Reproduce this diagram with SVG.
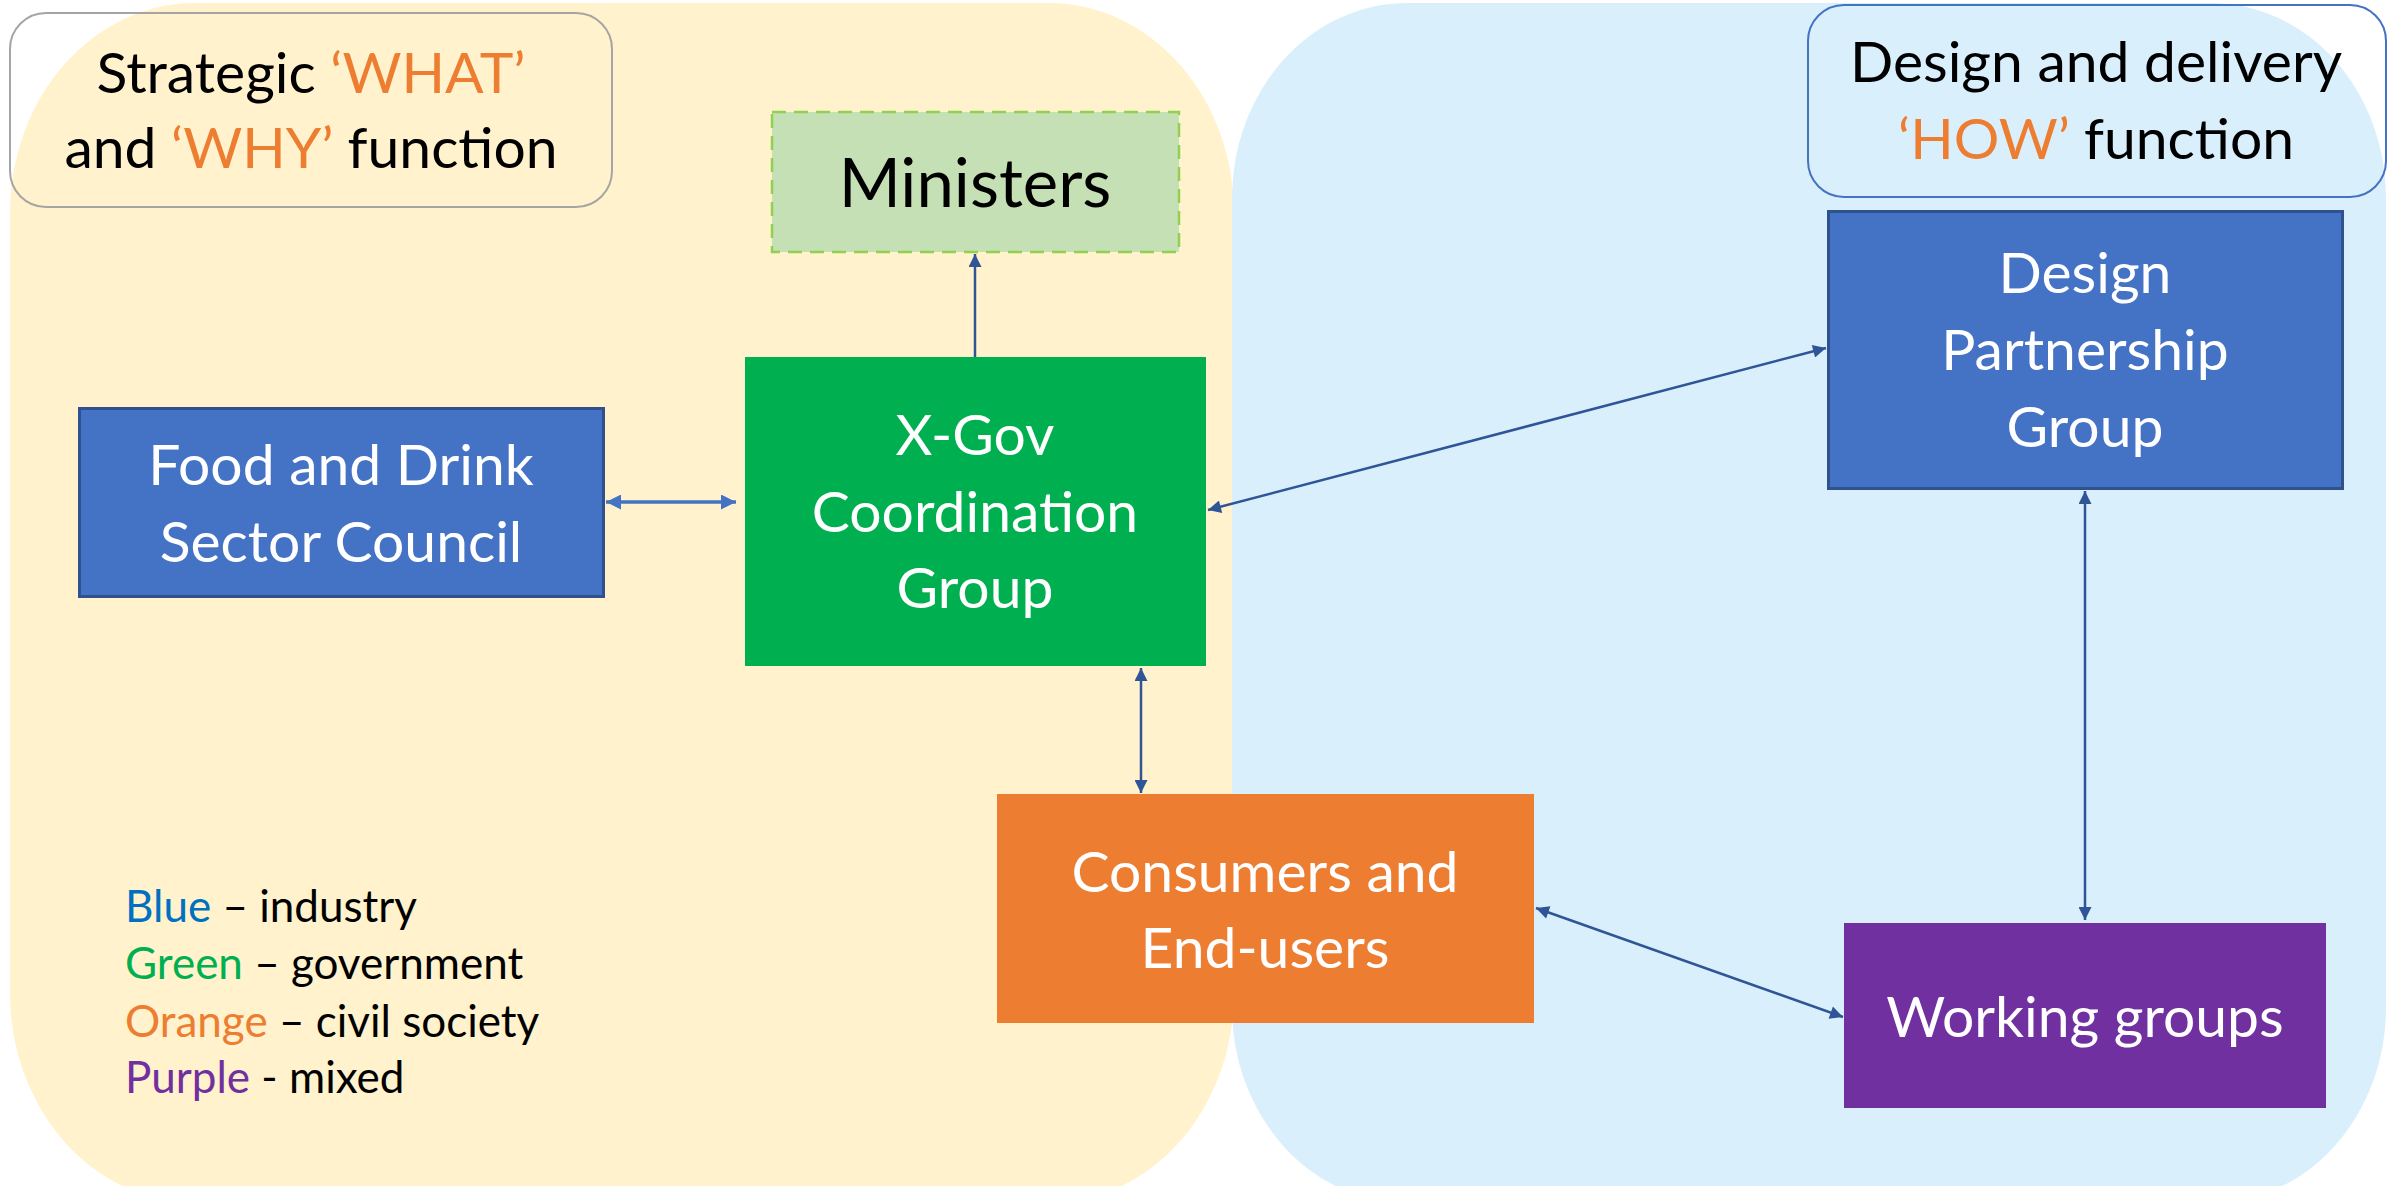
<svg xmlns="http://www.w3.org/2000/svg" width="2389" height="1186" viewBox="0 0 2389 1186">
<style>
.t{font-family:Lato,"Liberation Sans",sans-serif;}
.node{font-size:57px;fill:#FFFFFF;text-anchor:middle;}
.hdr{font-size:57px;fill:#000000;text-anchor:middle;}
.leg{font-size:44px;fill:#000000;}
.or{fill:#ED7D31;}
.conn{stroke:#2F5597;stroke-width:2.5;fill:none;}
.conn2{stroke:#4472C4;stroke-width:3.5;fill:none;}
</style>
<defs>
<marker id="ah" viewBox="0 0 10 10" refX="10" refY="5" markerWidth="15" markerHeight="13" markerUnits="userSpaceOnUse" orient="auto-start-reverse">
<path d="M0,0 L10,5 L0,10 z" fill="#2F5597"/>
</marker>
<marker id="ah2" viewBox="0 0 10 10" refX="10" refY="5" markerWidth="15" markerHeight="15" markerUnits="userSpaceOnUse" orient="auto-start-reverse">
<path d="M0,0 L10,5 L0,10 z" fill="#4472C4"/>
</marker>
</defs>
<rect width="2389" height="1186" fill="#FFFFFF"/>
<g id="region-what">
<rect x="10" y="3" width="1224" height="1200" rx="185" ry="210" fill="#FFF2CC"/>
</g>
<g id="region-how">
<rect x="1232" y="3" width="1154" height="1200" rx="175" ry="195" fill="#DAEFFC"/>
</g>
<rect x="0" y="1186" width="2389" height="20" fill="#FFFFFF"/>
<g id="label-what">
<rect x="10" y="13" width="602" height="194" rx="36" ry="36" fill="none" stroke="#A5A5A5" stroke-width="2"/>
<text class="t hdr" x="311" y="93">Strategic <tspan class="or">‘WHAT’</tspan></text>
<text class="t hdr" x="311" y="168">and <tspan class="or">‘WHY’</tspan> function</text>
</g>
<g id="label-how">
<rect x="1808" y="5" width="578" height="192" rx="36" ry="36" fill="none" stroke="#4472C4" stroke-width="2"/>
<text class="t hdr" x="2096" y="82">Design and delivery</text>
<text class="t hdr" x="2096" y="159"><tspan class="or">‘HOW’</tspan> function</text>
</g>
<g id="connectors">
<line class="conn" x1="975" y1="357" x2="975" y2="254" marker-end="url(#ah)"/>
<line class="conn2" x1="606" y1="502" x2="736" y2="502" marker-start="url(#ah2)" marker-end="url(#ah2)"/>
<line class="conn" x1="1208" y1="510" x2="1826" y2="348" marker-start="url(#ah)" marker-end="url(#ah)"/>
<line class="conn" x1="1141" y1="668" x2="1141" y2="793" marker-start="url(#ah)" marker-end="url(#ah)"/>
<line class="conn" x1="2085" y1="491" x2="2085" y2="920" marker-start="url(#ah)" marker-end="url(#ah)"/>
<line class="conn" x1="1536" y1="908" x2="1843" y2="1017" marker-start="url(#ah)" marker-end="url(#ah)"/>
</g>
<g id="ministers">
<rect x="772" y="112" width="407" height="140" fill="#C5E0B4" stroke="#92D050" stroke-width="2.5" stroke-dasharray="14,8"/>
<text class="t" x="975" y="207" font-size="67" fill="#000000" text-anchor="middle">Ministers</text>
</g>
<g id="xgov">
<rect x="745" y="357" width="461" height="309" fill="#00B050"/>
<text class="t node" x="975" y="455">X-Gov</text>
<text class="t node" x="975" y="532">Coordination</text>
<text class="t node" x="975" y="608">Group</text>
</g>
<g id="food-drink">
<rect x="79.5" y="408.5" width="524" height="188" fill="#4472C4" stroke="#2F528F" stroke-width="3"/>
<text class="t node" x="341" y="485">Food and Drink</text>
<text class="t node" x="341" y="562">Sector Council</text>
</g>
<g id="design-partnership">
<rect x="1828.5" y="211.5" width="514" height="277" fill="#4472C4" stroke="#2F528F" stroke-width="3"/>
<text class="t node" x="2085" y="293">Design</text>
<text class="t node" x="2085" y="370">Partnership</text>
<text class="t node" x="2085" y="447">Group</text>
</g>
<g id="consumers">
<rect x="997" y="794" width="537" height="229" fill="#ED7D31"/>
<text class="t node" x="1265" y="892">Consumers and</text>
<text class="t node" x="1265" y="968">End-users</text>
</g>
<g id="working-groups">
<rect x="1844" y="923" width="482" height="185" fill="#7030A0"/>
<text class="t node" x="2085" y="1037">Working groups</text>
</g>
<g id="legend">
<text class="t leg" x="125" y="922"><tspan fill="#0070C0">Blue</tspan> – industry</text>
<text class="t leg" x="125" y="979"><tspan fill="#00B050">Green</tspan> – government</text>
<text class="t leg" x="125" y="1037"><tspan fill="#ED7D31">Orange</tspan> – civil society</text>
<text class="t leg" x="125" y="1093"><tspan fill="#7030A0">Purple</tspan> - mixed</text>
</g>
</svg>
